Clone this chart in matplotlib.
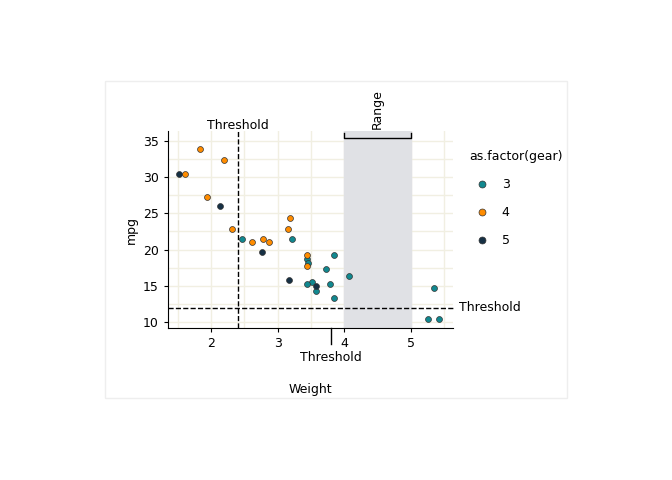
import matplotlib.pyplot as plt
from matplotlib.lines import Line2D

wt = [2.620, 2.875, 2.320, 3.215, 3.440, 3.460, 3.570, 3.190, 3.150, 3.440, 3.440,
      4.070, 3.730, 3.780, 5.250, 5.424, 5.345, 2.200, 1.615, 1.835, 2.465, 3.520,
      3.435, 3.840, 3.845, 1.935, 2.140, 1.513, 3.170, 2.770, 3.570, 2.780]
mpg = [21.0, 21.0, 22.8, 21.4, 18.7, 18.1, 14.3, 24.4, 22.8, 19.2, 17.8,
       16.4, 17.3, 15.2, 10.4, 10.4, 14.7, 32.4, 30.4, 33.9, 21.5, 15.5,
       15.2, 13.3, 19.2, 27.3, 26.0, 30.4, 15.8, 19.7, 15.0, 21.4]
gear = [4, 4, 4, 3, 3, 3, 3, 4, 4, 4, 4, 3, 3, 3, 3, 3, 3, 4, 4, 4, 3, 3,
        3, 3, 3, 4, 5, 5, 5, 5, 5, 4]
gears = [3, 4, 5]
colors = {3: '#11888f', 4: '#ff8c00', 5: '#163044'}

fig = plt.figure(figsize=(6.72, 4.8), dpi=100)
fig.patches.append(plt.Rectangle((105/672, 1-398/480), 462/672, 317/480,
                                 transform=fig.transFigure, fill=False,
                                 edgecolor='#eeeeee', lw=1))
ax = fig.add_axes([168/672, 1-328/480, 285/672, 197/480])
ax.set_xlim(1.355, 5.63)
ax.set_ylim(9.17, 36.38)
ax.set_xticks([2, 3, 4, 5])
ax.set_yticks([10, 15, 20, 25, 30, 35])
ax.set_xticks([1.5, 2.5, 3.5, 4.5, 5.5], minor=True)
ax.set_yticks([12.5, 17.5, 22.5, 27.5, 32.5], minor=True)
ax.grid(True, which='both', color='#f1efe2', lw=1)
ax.set_axisbelow(True)
ax.tick_params(which='minor', length=0)
ax.tick_params(labelsize=9, length=3)
for s in ['top', 'right']:
    ax.spines[s].set_visible(False)

ax.axvspan(4, 5, color='#e0e1e5', zorder=1)
ax.axvline(2.4, color='black', ls='--', lw=1, zorder=2)
ax.plot([1.355, 5.66], [12, 12], color='black', ls='--', lw=1, zorder=2, clip_on=False)

for g in gears:
    xs = [w for w, gg in zip(wt, gear) if gg == g]
    ys = [m for m, gg in zip(mpg, gear) if gg == g]
    ax.scatter(xs, ys, s=18, color=colors[g], edgecolor='#333333', lw=0.5, zorder=3)

# bracket and annotations
ax.plot([4, 4, 5, 5], [36.1, 35.4, 35.4, 36.1], color='black', lw=1, clip_on=False, zorder=4)
ax.text(4.5, 36.6, 'Range', rotation=90, ha='center', va='bottom', fontsize=9)
ax.text(2.4, 37.2, 'Threshold', ha='center', va='center', fontsize=9)
ax.text(5.72, 12, 'Threshold', ha='left', va='center', fontsize=9)
ax.plot([3.8, 3.8], [9.17, 6.9], color='black', lw=1, clip_on=False)
ax.text(3.8, 5.05, 'Threshold', ha='center', va='center', fontsize=9)

ax.set_xlabel('Weight', fontsize=9, labelpad=24)
ax.set_ylabel('mpg', fontsize=9)

handles = [Line2D([], [], marker='o', ls='', markersize=5, markerfacecolor=colors[g],
                  markeredgecolor='#333333', markeredgewidth=0.5) for g in gears]
fig.legend(handles, [str(g) for g in gears], title='as.factor(gear)',
           loc='upper left', bbox_to_anchor=(458/672, 1-139/480), frameon=False,
           fontsize=9, title_fontsize=9, labelspacing=1.2, alignment='left',
           handletextpad=0.6)

fig.savefig('out.png', dpi=100)
